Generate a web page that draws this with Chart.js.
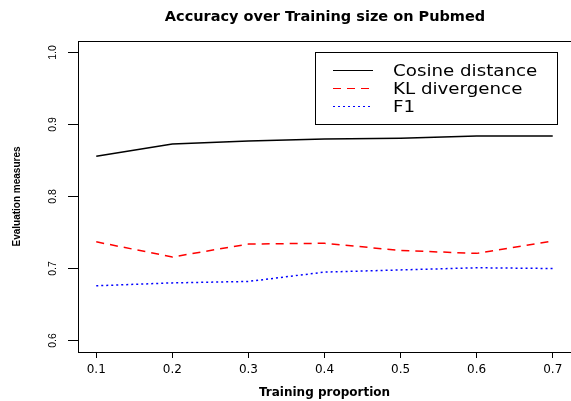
<!DOCTYPE html>
<html>
<head>
  <meta charset="utf-8"/>
  <script src="https://cdn.jsdelivr.net/npm/chart.js"></script>
  <style>
    html, body { margin: 0; padding: 0; background: #ffffff; }
    #wrap { width: 571px; height: 401px; }
  </style>
</head>
<body>
<div id="wrap"><canvas id="myChart" width="571" height="401"></canvas></div>
<script>
// data
const proportions = [0.1, 0.2, 0.3, 0.4, 0.5, 0.6, 0.7];
const cosine = [0.856, 0.873, 0.877, 0.880, 0.881, 0.884, 0.884];
const klDiv = [0.737, 0.716, 0.734, 0.735, 0.725, 0.721, 0.738];
const f1 = [0.676, 0.680, 0.682, 0.695, 0.698, 0.701, 0.700];
const seriesNames = ["Cosine distance", "KL divergence", "F1"];
const xTicks = [0.1, 0.2, 0.3, 0.4, 0.5, 0.6, 0.7];
const yTicks = [0.6, 0.7, 0.8, 0.9, 1.0];
const chartTitle = "Accuracy over Training size on Pubmed";

function pts(vals) {
  return vals.map((v, i) => ({ x: proportions[i], y: v }));
}

// box around plot + title (R style)
const frame = {
  id: "frame",
  afterDraw(chart) {
    const { ctx, chartArea: a } = chart;
    ctx.save();
    ctx.strokeStyle = "#000";
    ctx.lineWidth = 1;
    ctx.strokeRect(a.left + 0.5, a.top + 0.5, a.right - a.left, a.bottom - a.top);
    ctx.fillStyle = "#000";
    ctx.font = "bold 14.5px 'DejaVu Sans'";
    ctx.textAlign = "center";
    ctx.textBaseline = "middle";
    ctx.fillText(chartTitle, 325, 17);
    ctx.restore();
  }
};

// legend box inside the plot, top right
const boxLegend = {
  id: "boxLegend",
  afterDraw(chart) {
    const { ctx } = chart;
    const bx = 315, by = 52, bw = 242, bh = 72;
    ctx.save();
    ctx.fillStyle = "#fff";
    ctx.fillRect(bx, by, bw, bh);
    ctx.strokeStyle = "#000";
    ctx.lineWidth = 1;
    ctx.strokeRect(bx + 0.5, by + 0.5, bw, bh);
    chart.data.datasets.forEach((ds, i) => {
      const y = Math.round(by + 18 + i * 18) + 0.5;
      ctx.strokeStyle = ds.borderColor;
      ctx.lineWidth = 1;
      ctx.setLineDash(ds.borderDash || []);
      ctx.beginPath();
      ctx.moveTo(bx + 18, y);
      ctx.lineTo(bx + 58, y);
      ctx.stroke();
      ctx.setLineDash([]);
      // text is a bit wider than tall in the original
      ctx.save();
      ctx.translate(bx + 78, y + 1);
      ctx.scale(1.14, 1);
      ctx.fillStyle = "#000";
      ctx.font = "16px 'DejaVu Sans'";
      ctx.textBaseline = "middle";
      ctx.fillText(ds.label, 0, 0);
      ctx.restore();
    });
    ctx.restore();
  }
};

const ctx = document.getElementById("myChart").getContext("2d");

new Chart(ctx, {
  type: "line",
  data: {
    datasets: [
      { label: seriesNames[0], data: pts(cosine), borderColor: "#000000", borderWidth: 1.5 },
      { label: seriesNames[1], data: pts(klDiv), borderColor: "#ff0000", borderWidth: 1.5, borderDash: [8, 6] },
      { label: seriesNames[2], data: pts(f1), borderColor: "#0000ff", borderWidth: 1.5, borderDash: [2, 3] }
    ]
  },
  options: {
    responsive: false,
    animation: false,
    elements: { point: { radius: 0 }, line: { tension: 0 } },
    layout: { padding: { top: 41, right: -4, left: 0, bottom: 0 } },
    plugins: { legend: { display: false }, title: { display: false }, tooltip: { enabled: false } },
    scales: {
      x: {
        type: "linear",
        min: 0.076,
        max: 0.724,
        afterBuildTicks: s => { s.ticks = xTicks.map(v => ({ value: v })); },
        afterFit: s => { s.height = 49; },
        grid: { drawOnChartArea: false, drawTicks: true, tickLength: 6, color: "#000", tickColor: "#000" },
        border: { display: true, color: "#000" },
        ticks: {
          color: "#000",
          font: { family: "'DejaVu Sans'", size: 12 },
          padding: 5,
          maxRotation: 0,
          callback: v => v.toFixed(1)
        },
        title: {
          display: true,
          text: "Training proportion",
          color: "#000",
          font: { family: "'DejaVu Sans'", size: 12, weight: "bold" },
          padding: { top: 0, bottom: 1 }
        }
      },
      y: {
        min: 0.584,
        max: 1.016,
        afterBuildTicks: s => { s.ticks = yTicks.map(v => ({ value: v })); },
        afterFit: s => { s.width = 78; },
        grid: { drawOnChartArea: false, drawTicks: true, tickLength: 10, color: "#000", tickColor: "#000" },
        border: { display: true, color: "#000" },
        ticks: {
          color: "#000",
          font: { family: "'Liberation Sans'", size: 10.5 },
          padding: 8,
          minRotation: 90,
          maxRotation: 90,
          crossAlign: "center",
          callback: v => v.toFixed(1)
        },
        title: {
          display: true,
          text: "Evaluation measures",
          color: "#000",
          font: { family: "'Liberation Sans'", size: 10, weight: "bold" },
          padding: { top: 11, bottom: 11 }
        }
      }
    }
  },
  plugins: [frame, boxLegend]
});
</script>
</body>
</html>
